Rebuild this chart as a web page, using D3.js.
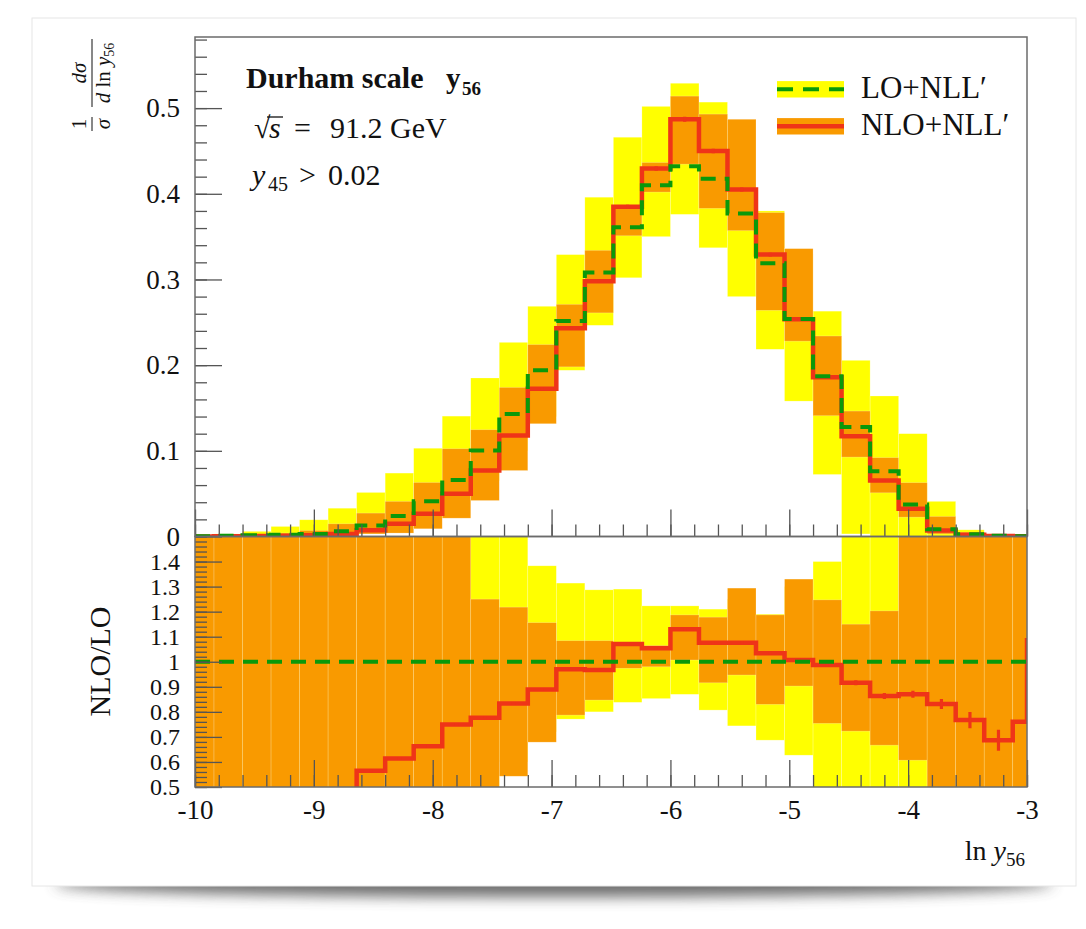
<!DOCTYPE html>
<html lang="en">
<head>
<meta charset="UTF-8">
<title>Durham scale y56</title>
<script src="https://d3js.org/d3.v7.min.js"></script>
<style>
  body { margin: 0; background: #fff; }
  svg text { font-family: "Liberation Serif", "DejaVu Serif", serif; fill: #111; }
</style>
</head>
<body>
<div id="chart"></div>
<script>
// bin edges in ln y56 (first and last bins are cut by the frame)
const binEdges = [-10, -9.84, -9.60, -9.36, -9.12, -8.88, -8.64, -8.40, -8.16, -7.92,
  -7.68, -7.44, -7.20, -6.96, -6.72, -6.48, -6.24, -6.00, -5.76, -5.52,
  -5.28, -5.04, -4.80, -4.56, -4.32, -4.08, -3.84, -3.60, -3.36, -3.12, -3.00];

// upper panel: 1/sigma dsigma/dln y56
const loCentral = [0.0003, 0.0008, 0.0015, 0.002, 0.003, 0.0062, 0.0128, 0.024, 0.041, 0.066,
  0.1005, 0.143, 0.194, 0.2515, 0.308, 0.361, 0.410, 0.432, 0.4175, 0.377,
  0.319, 0.254, 0.187, 0.1277, 0.0763, 0.0374, 0.0086, 0.0025, 0.0008, 0.0003];
const loLow = [0.0001, 0.0004, 0.0008, 0.0012, 0.002, 0.004, 0.008, 0.015, 0.026, 0.042,
  0.065, 0.10, 0.14, 0.194, 0.2465, 0.302, 0.350, 0.376, 0.337, 0.280,
  0.2185, 0.158, 0.0724, 0.003, 0, 0, 0, 0, 0, 0];
const loHigh = [0.0015, 0.003, 0.006, 0.0117, 0.0195, 0.033, 0.0514, 0.074, 0.103, 0.1405,
  0.185, 0.2266, 0.2687, 0.329, 0.396, 0.466, 0.502, 0.529, 0.507, 0.47,
  0.380, 0.33, 0.263, 0.2056, 0.164, 0.12, 0.041, 0.0078, 0.0025, 0.001];
const nloCentral = [0.0001, 0.0003, 0.0006, 0.001, 0.0015, 0.003, 0.0072, 0.0148, 0.0265, 0.050,
  0.077, 0.118, 0.1725, 0.243, 0.298, 0.385, 0.4295, 0.487, 0.450, 0.405,
  0.329, 0.2535, 0.186, 0.117, 0.0654, 0.0323, 0.007, 0.002, 0.0006, 0.0002];
const nloLow = [0, 0.0001, 0.0003, 0.0005, 0.001, 0.002, 0.003, 0.004, 0.009, 0.0214,
  0.042, 0.077, 0.1316, 0.198, 0.261, 0.351, 0.402, 0.4346, 0.383, 0.357,
  0.264, 0.228, 0.141, 0.0927, 0.051, 0.0226, 0.003, 0.0005, 0.0002, 0.0001];
const nloHigh = [0.0008, 0.0015, 0.0025, 0.004, 0.007, 0.0148, 0.0273, 0.041, 0.063, 0.1024,
  0.1246, 0.174, 0.224, 0.271, 0.334, 0.385, 0.4365, 0.514, 0.493, 0.487,
  0.378, 0.336, 0.234, 0.1464, 0.092, 0.0628, 0.0234, 0.005, 0.002, 0.001];
const nloErr = [0, 0, 0, 0, 0, 0, 0.0003, 0.0004, 0.0005, 0.0008,
  0.001, 0.0012, 0.0015, 0.0018, 0.002, 0.0022, 0.0025, 0.0028, 0.0026, 0.0024,
  0.0022, 0.002, 0.0018, 0.0015, 0.0012, 0.001, 0.0006, 0.0003, 0, 0];

// lower panel: NLO/LO
const ratioNlo = [0.20, 0.25, 0.30, 0.35, 0.40, 0.47, 0.565, 0.614, 0.663, 0.750,
  0.776, 0.833, 0.889, 0.970, 0.967, 1.071, 1.054, 1.130, 1.076, 1.076,
  1.034, 1.007, 0.987, 0.916, 0.863, 0.870, 0.831, 0.767, 0.687, 0.760];
const ratioNloEnd = 1.095;
const ratioErr = [0, 0, 0, 0, 0, 0, 0.006, 0.006, 0.005, 0.005,
  0.004, 0.004, 0.003, 0.003, 0.003, 0.003, 0.004, 0.005, 0.004, 0.005,
  0.005, 0.006, 0.007, 0.010, 0.012, 0.014, 0.020, 0.032, 0.042, 0];
const ratioLoLow = [0.3, 0.3, 0.3, 0.3, 0.3, 0.3, 0.3, 0.3, 0.3, 0.3,
  0.4, 0.6, 0.72, 0.771, 0.80, 0.838, 0.853, 0.87, 0.807, 0.744,
  0.687, 0.627, 0.39, 0.02, 0, 0, 0, 0, 0, 0];
const ratioLoHigh = [2, 2, 2, 2, 2, 2, 2, 2, 2, 2,
  1.83, 1.6, 1.383, 1.314, 1.287, 1.29, 1.223, 1.223, 1.21, 1.25,
  1.19, 1.30, 1.40, 1.61, 2.1, 3.2, 4, 4, 4, 4];
const ratioNloLow = [0.1, 0.1, 0.1, 0.1, 0.1, 0.1, 0.1, 0.1, 0.1, 0.1,
  0.408, 0.543, 0.679, 0.787, 0.847, 0.974, 0.98, 1.007, 0.916, 0.947,
  0.83, 0.903, 0.754, 0.723, 0.667, 0.607, 0.3, 0.3, 0.3, 0.3];
const ratioNloHigh = [3, 3, 3, 3, 3, 3, 3, 3, 3, 3,
  1.25, 1.218, 1.156, 1.084, 1.084, 1.071, 1.065, 1.187, 1.178, 1.294,
  1.187, 1.33, 1.247, 1.15, 1.203, 1.7, 3, 3, 3, 3];

const upperMajor = [0, 0.1, 0.2, 0.3, 0.4, 0.5];
const ratioMajor = [0.5, 0.6, 0.7, 0.8, 0.9, 1, 1.1, 1.2, 1.3, 1.4];
const xMajor = [-10, -9, -8, -7, -6, -5, -4, -3];

const colYellow = "#ffff00", colOrange = "#f99a00", colRed = "#ef3418", colGreen = "#0a990a";

const W = 1086, H = 929;
const P = { left: 195, right: 1027, top: 37, mid: 536.5, bottom: 787 };

const svg = d3.select("#chart").append("svg")
  .attr("width", W).attr("height", H);

const defs = svg.append("defs");
defs.append("filter").attr("id", "blur").attr("x", "-20%").attr("y", "-200%")
  .attr("width", "140%").attr("height", "500%")
  .append("feGaussianBlur").attr("stdDeviation", 7);
defs.append("clipPath").attr("id", "clipUp").append("rect")
  .attr("x", P.left).attr("y", P.top).attr("width", P.right - P.left).attr("height", P.mid - P.top);
defs.append("clipPath").attr("id", "clipLow").append("rect")
  .attr("x", P.left).attr("y", P.mid).attr("width", P.right - P.left).attr("height", P.bottom - P.mid);

// card with shadow
svg.append("ellipse").attr("cx", 554).attr("cy", 884).attr("rx", 500).attr("ry", 13)
  .attr("fill", "#555").attr("opacity", 0.85).attr("filter", "url(#blur)");
svg.append("rect").attr("x", 32).attr("y", 18).attr("width", 1044).attr("height", 868)
  .attr("fill", "#fff").attr("stroke", "#e6e6e6").attr("stroke-width", 1);

const x = d3.scaleLinear().domain([-10, -3]).range([P.left, P.right]);
const yUp = d3.scaleLinear().domain([0, 0.583]).range([P.mid, P.top]);
const yRat = d3.scaleLinear().domain([0.5, 1.5]).range([P.bottom, P.mid]);

const bins = d3.range(binEdges.length - 1).map(i => ({ i, lo: binEdges[i], hi: binEdges[i + 1] }));

function bands(g, y, low, high, fill) {
  g.append("g").selectAll("rect").data(bins).join("rect")
    .attr("x", d => x(d.lo))
    .attr("width", d => x(d.hi) - x(d.lo))
    .attr("y", d => y(high[d.i]))
    .attr("height", d => Math.max(0, y(low[d.i]) - y(high[d.i])))
    .attr("fill", fill)
    .attr("stroke", "rgba(255,255,255,0.35)")
    .attr("stroke-width", 0.6);
}

function stepPath(y, vals, endVal) {
  const pts = [];
  bins.forEach(d => { pts.push([x(d.lo), y(vals[d.i])]); pts.push([x(d.hi), y(vals[d.i])]); });
  if (endVal !== undefined) pts.push([x(-3), y(endVal)]);
  return d3.line()(pts);
}

function errBars(g, y, vals, errs) {
  g.append("g").selectAll("line").data(bins.filter(d => errs[d.i] > 0)).join("line")
    .attr("x1", d => x((d.lo + d.hi) / 2)).attr("x2", d => x((d.lo + d.hi) / 2))
    .attr("y1", d => y(vals[d.i] - errs[d.i])).attr("y2", d => y(vals[d.i] + errs[d.i]))
    .attr("stroke", colRed).attr("stroke-width", 3.2);
}

// upper panel
const up = svg.append("g").attr("clip-path", "url(#clipUp)");
bands(up, yUp, loLow, loHigh, colYellow);
bands(up, yUp, nloLow, nloHigh, colOrange);
up.append("path").attr("d", stepPath(yUp, nloCentral)).attr("fill", "none")
  .attr("stroke", colRed).attr("stroke-width", 4.5);
errBars(up, yUp, nloCentral, nloErr);
up.append("path").attr("d", stepPath(yUp, loCentral)).attr("fill", "none")
  .attr("stroke", colGreen).attr("stroke-width", 4).attr("stroke-dasharray", "15,9");

// lower panel
const low = svg.append("g").attr("clip-path", "url(#clipLow)");
bands(low, yRat, ratioLoLow, ratioLoHigh, colYellow);
bands(low, yRat, ratioNloLow, ratioNloHigh, colOrange);
low.append("path").attr("d", stepPath(yRat, ratioNlo, ratioNloEnd)).attr("fill", "none")
  .attr("stroke", colRed).attr("stroke-width", 4.5);
errBars(low, yRat, ratioNlo, ratioErr);
low.append("line").attr("x1", P.left).attr("x2", P.right)
  .attr("y1", yRat(1)).attr("y2", yRat(1))
  .attr("stroke", colGreen).attr("stroke-width", 4).attr("stroke-dasharray", "15,9");

// axes
function styleAxis(size) {
  return g => {
    g.select(".domain").remove();
    g.selectAll(".tick line").attr("stroke", "#555").attr("stroke-width", 1.3);
    g.selectAll(".tick text").attr("font-size", size).attr("fill", "#111")
      .attr("font-family", "'Liberation Serif', serif");
  };
}
const fmtY = d => d === 0 ? "0" : d === 1 ? "1" : d.toFixed(1);

svg.append("g").attr("transform", `translate(${P.left},0)`)
  .call(d3.axisLeft(yUp).tickValues(d3.range(0, 0.581, 0.02)).tickSize(-12).tickFormat(""))
  .call(styleAxis(27));
svg.append("g").attr("transform", `translate(${P.left},0)`)
  .call(d3.axisLeft(yUp).tickValues(upperMajor).tickSize(-27).tickPadding(15).tickFormat(fmtY))
  .call(styleAxis(27));
svg.append("g").attr("transform", `translate(${P.left},0)`)
  .call(d3.axisLeft(yRat).tickValues(d3.range(0.5, 1.5001, 0.02)).tickSize(-12).tickFormat(""))
  .call(styleAxis(24));
svg.append("g").attr("transform", `translate(${P.left},0)`)
  .call(d3.axisLeft(yRat).tickValues(ratioMajor).tickSize(-27).tickPadding(15).tickFormat(fmtY))
  .call(styleAxis(24));

[P.mid, P.bottom].forEach((yy, j) => {
  svg.append("g").attr("transform", `translate(0,${yy})`)
    .call(d3.axisBottom(x).tickValues(d3.range(-10, -2.999, 0.2)).tickSize(-12).tickFormat(""))
    .call(styleAxis(27));
  svg.append("g").attr("transform", `translate(0,${yy})`)
    .call(d3.axisBottom(x).tickValues(xMajor).tickSize(-27).tickPadding(13)
      .tickFormat(j === 1 ? d3.format("d") : ""))
    .call(styleAxis(27));
});
svg.selectAll(".tick text").each(function () {
  const t = d3.select(this); t.text(t.text().replace("−", "-"));
});

// frames
svg.append("rect").attr("x", P.left).attr("y", P.top).attr("width", P.right - P.left)
  .attr("height", P.mid - P.top).attr("fill", "none").attr("stroke", "#6b6b6b").attr("stroke-width", 1.5);
svg.append("rect").attr("x", P.left).attr("y", P.mid).attr("width", P.right - P.left)
  .attr("height", P.bottom - P.mid).attr("fill", "none").attr("stroke", "#6b6b6b").attr("stroke-width", 1.5);

// y label upper: 1/sigma dsigma / d ln y56
const yl = svg.append("g").attr("transform", "translate(92,0) rotate(-90)").attr("font-size", 21);
yl.append("text").attr("x", -124).attr("y", -6).attr("text-anchor", "middle").text("1");
yl.append("line").attr("x1", -131).attr("x2", -117).attr("y1", 0).attr("y2", 0).attr("stroke", "#111").attr("stroke-width", 1);
yl.append("text").attr("x", -124).attr("y", 18).attr("text-anchor", "middle").attr("font-style", "italic").text("σ");
yl.append("text").attr("x", -73).attr("y", -6).attr("text-anchor", "middle").attr("font-style", "italic").text("dσ");
yl.append("line").attr("x1", -107).attr("x2", -39).attr("y1", 0).attr("y2", 0).attr("stroke", "#111").attr("stroke-width", 1);
const den = yl.append("text").attr("x", -73).attr("y", 18).attr("text-anchor", "middle");
den.append("tspan").attr("font-style", "italic").text("d");
den.append("tspan").text(" ln ");
den.append("tspan").attr("font-style", "italic").text("y");
den.append("tspan").attr("font-size", 14).attr("dy", 4).text("56");

// y label lower
svg.append("text").attr("transform", "translate(110,661.5) rotate(-90)")
  .attr("text-anchor", "middle").attr("font-size", 30).text("NLO/LO");

// x label
const xl = svg.append("text").attr("x", 1025).attr("y", 860).attr("text-anchor", "end").attr("font-size", 28);
xl.append("tspan").text("ln ");
xl.append("tspan").attr("font-style", "italic").text("y");
xl.append("tspan").attr("font-size", 19).attr("dy", 6).text("56");

// annotations
svg.append("text").attr("x", 246).attr("y", 88).attr("font-size", 30).attr("font-weight", "bold").text("Durham scale");
svg.append("text").attr("x", 446).attr("y", 88).attr("font-size", 29).attr("font-weight", "bold").text("y");
svg.append("text").attr("x", 462).attr("y", 95).attr("font-size", 19).attr("font-weight", "bold").text("56");

svg.append("text").attr("x", 254).attr("y", 138).attr("font-size", 30).text("√");
svg.append("text").attr("x", 269).attr("y", 138).attr("font-size", 30).attr("font-style", "italic").text("s");
svg.append("line").attr("x1", 267).attr("x2", 283).attr("y1", 117).attr("y2", 117).attr("stroke", "#111").attr("stroke-width", 1.3);
svg.append("text").attr("x", 294).attr("y", 138).attr("font-size", 30).text("=");
svg.append("text").attr("x", 330).attr("y", 138).attr("font-size", 30).text("91.2 GeV");

svg.append("text").attr("x", 252).attr("y", 185).attr("font-size", 30).attr("font-style", "italic").text("y");
svg.append("text").attr("x", 268).attr("y", 191).attr("font-size", 20).text("45");
svg.append("text").attr("x", 299).attr("y", 185).attr("font-size", 30).text(">");
svg.append("text").attr("x", 328).attr("y", 185).attr("font-size", 30).text("0.02");

// legend
const leg = [
  { label: "LO+NLL′", band: colYellow, line: colGreen, dash: "16,10", y: 89.3 },
  { label: "NLO+NLL′", band: colOrange, line: colRed, dash: null, y: 126.3 }
];
leg.forEach(l => {
  svg.append("rect").attr("x", 777).attr("y", l.y - 8.2).attr("width", 67).attr("height", 16.4).attr("fill", l.band);
  const ln = svg.append("line").attr("x1", 777).attr("x2", 844).attr("y1", l.y).attr("y2", l.y)
    .attr("stroke", l.line).attr("stroke-width", l.dash ? 4 : 4.5);
  if (l.dash) ln.attr("stroke-dasharray", l.dash);
  svg.append("text").attr("x", 861).attr("y", l.y + 9).attr("font-size", 31).text(l.label);
});
</script>
</body>
</html>
